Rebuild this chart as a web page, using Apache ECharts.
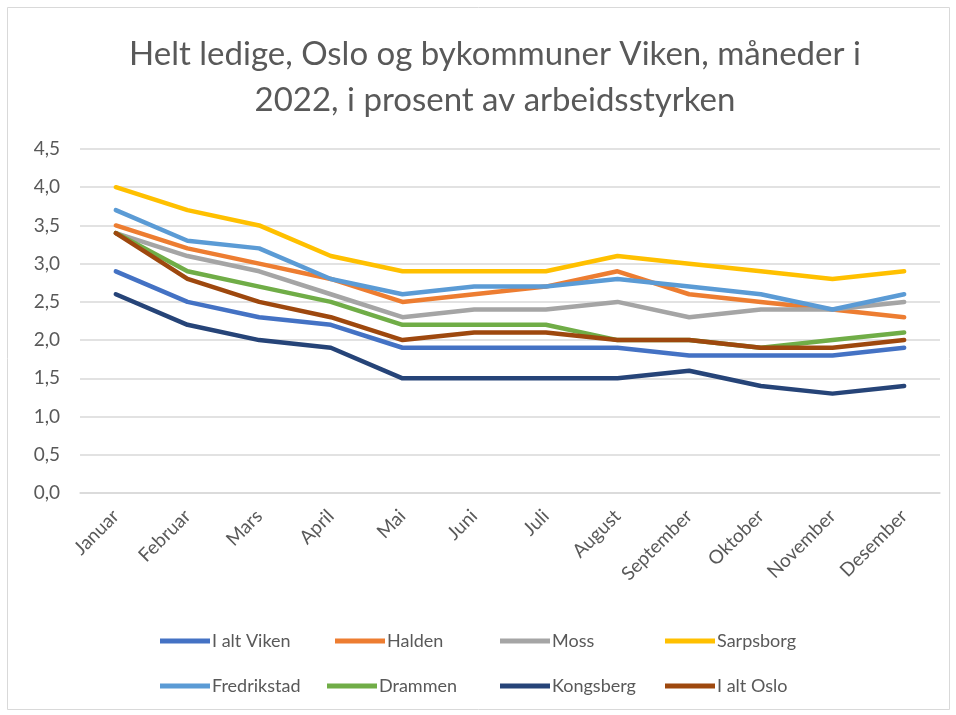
<!DOCTYPE html>
<html>
<head>
<meta charset="utf-8">
<script src="https://cdn.jsdelivr.net/npm/echarts@6/dist/echarts.min.js"></script>
<style>
  html, body { margin: 0; padding: 0; background: #fff; }
  #chart { width: 956px; height: 715px; }
</style>
</head>
<body>
<div id="chart"></div>
<script>
// months on the x axis
var months = ["Januar", "Februar", "Mars", "April", "Mai", "Juni", "Juli",
  "August", "September", "Oktober", "November", "Desember"];

// unemployment in percent
var iAltViken   = [2.9, 2.5, 2.3, 2.2, 1.9, 1.9, 1.9, 1.9, 1.8, 1.8, 1.8, 1.9];
var halden      = [3.5, 3.2, 3.0, 2.8, 2.5, 2.6, 2.7, 2.9, 2.6, 2.5, 2.4, 2.3];
var moss        = [3.4, 3.1, 2.9, 2.6, 2.3, 2.4, 2.4, 2.5, 2.3, 2.4, 2.4, 2.5];
var sarpsborg   = [4.0, 3.7, 3.5, 3.1, 2.9, 2.9, 2.9, 3.1, 3.0, 2.9, 2.8, 2.9];
var fredrikstad = [3.7, 3.3, 3.2, 2.8, 2.6, 2.7, 2.7, 2.8, 2.7, 2.6, 2.4, 2.6];
var drammen     = [3.4, 2.9, 2.7, 2.5, 2.2, 2.2, 2.2, 2.0, 2.0, 1.9, 2.0, 2.1];
var kongsberg   = [2.6, 2.2, 2.0, 1.9, 1.5, 1.5, 1.5, 1.5, 1.6, 1.4, 1.3, 1.4];
var iAltOslo    = [3.4, 2.8, 2.5, 2.3, 2.0, 2.1, 2.1, 2.0, 2.0, 1.9, 1.9, 2.0];

var seriesNames = ["I alt Viken", "Halden", "Moss", "Sarpsborg",
  "Fredrikstad", "Drammen", "Kongsberg", "I alt Oslo"];
var seriesData = [iAltViken, halden, moss, sarpsborg,
  fredrikstad, drammen, kongsberg, iAltOslo];
var colors = ["#4472C4", "#ED7D31", "#A5A5A5", "#FFC000",
  "#5B9BD5", "#70AD47", "#264478", "#9E480E"];

var FONT = "Lato";
var TXT = "#595959";

// legend is laid out in a 4x2 table, one legend box per entry
var legendLeft = [155, 330, 495, 660, 155, 322, 495, 660];
var legendTop = [627, 672];

var chart = echarts.init(document.getElementById("chart"));

var legends = seriesNames.map(function (name, i) {
  return {
    data: [name],
    left: legendLeft[i],
    top: legendTop[Math.floor(i / 4)],
    itemWidth: 50,
    itemHeight: 5,
    itemGap: 0,
    icon: "rect",
    textStyle: { fontFamily: FONT, fontSize: 18, color: TXT, padding: [0, 0, 0, -3] }
  };
});

var series = seriesNames.map(function (name, i) {
  return {
    name: name,
    type: "line",
    data: seriesData[i],
    symbol: "none",
    lineStyle: { width: 4.5, color: colors[i], cap: "round", join: "round" },
    itemStyle: { color: colors[i] }
  };
});

chart.setOption({
  animation: false,
  backgroundColor: "#fff",
  color: colors,
  title: {
    text: "Helt ledige, Oslo og bykommuner Viken, måneder i\n2022, i prosent av arbeidsstyrken",
    left: 490,
    top: 26,
    textAlign: "center",
    textStyle: {
      fontFamily: FONT,
      fontSize: 33,
      fontWeight: "normal",
      color: TXT,
      lineHeight: 46
    }
  },
  legend: legends,
  grid: { left: 80, right: 16, top: 149, bottom: 222, containLabel: false },
  xAxis: {
    type: "category",
    data: months,
    boundaryGap: true,
    axisLine: { show: true, lineStyle: { color: "#d9d9d9", width: 1.5 } },
    axisTick: { show: false },
    axisLabel: {
      rotate: 45,
      margin: 20,
      fontFamily: FONT,
      fontSize: 19,
      color: TXT,
      interval: 0
    }
  },
  yAxis: {
    type: "value",
    min: 0,
    max: 4.5,
    interval: 0.5,
    axisLine: { show: false },
    axisTick: { show: false },
    splitLine: { lineStyle: { color: "#d9d9d9", width: 1.5 } },
    axisLabel: {
      margin: 20,
      fontFamily: FONT,
      fontSize: 19,
      color: TXT,
      formatter: function (v) { return v.toFixed(1).replace(".", ","); }
    }
  },
  graphic: [{
    type: "rect",
    shape: { x: 7.5, y: 7.5, width: 942, height: 702 },
    style: { fill: null, stroke: "#d9d9d9", lineWidth: 1 },
    silent: true
  }],
  series: series
});
</script>
</body>
</html>
